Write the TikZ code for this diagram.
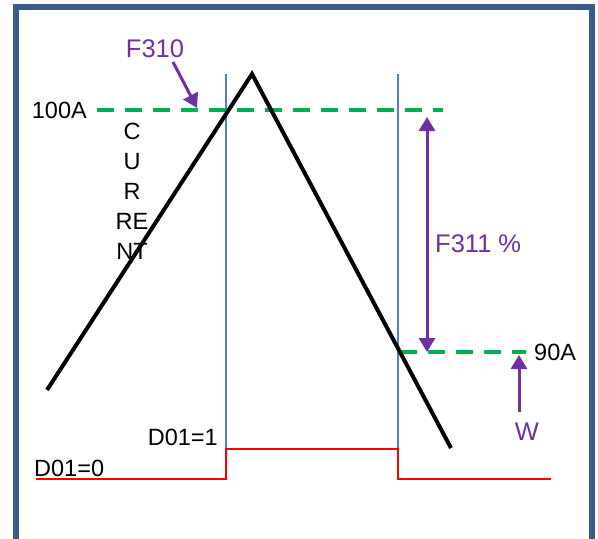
\documentclass[tikz,border=0pt]{standalone}
\usepackage{fontspec}
\setmainfont{Liberation Sans}
\usetikzlibrary{arrows.meta}
\definecolor{frameblue}{HTML}{385D8A}
\definecolor{lineblue}{HTML}{4F81BD}
\definecolor{dgreen}{HTML}{00B050}
\definecolor{purp}{HTML}{7030A0}
\begin{document}
\begin{tikzpicture}[x=1pt,y=-1pt,
  lbl/.style={inner sep=0pt,font=\fontsize{23.5}{28}\selectfont},
  plbl/.style={inner sep=0pt,text=purp,font=\fontsize{25.5}{30}\selectfont},
  curve/.style={line width=4pt,black},
  level/.style={line width=4pt,dgreen,dash pattern=on 17pt off 11pt},
  marker/.style={line width=1.5pt,lineblue},
  signal/.style={line width=2pt,red},
  parrow/.style={line width=3pt,purp,-{Triangle[length=14pt,width=16pt]}},
  pdarrow/.style={line width=3pt,purp,{Triangle[length=14pt,width=16pt]}-{Triangle[length=14pt,width=16pt]}},
  ]
\useasboundingbox (0,0) rectangle (598,539);
\fill[white] (0,0) rectangle (598,539);
% frame
\coordinate (fbl) at (16,560);
\coordinate (ftl) at (16,6.5);
\coordinate (ftr) at (592,6.5);
\coordinate (fbr) at (592,560);
\draw[frameblue,line width=6pt,line join=miter] (fbl) -- (ftl) -- (ftr) -- (fbr);
% marker lines
\coordinate (b1t) at (226,74);
\coordinate (b1b) at (226,449);
\coordinate (b2t) at (398,74);
\coordinate (b2b) at (398,449);
\draw[marker] (b1t) -- (b1b);
\draw[marker] (b2t) -- (b2b);
% levels
\coordinate (g1s) at (97,110);
\coordinate (g1e) at (443,110);
\coordinate (g2s) at (400,352);
\coordinate (g2e) at (526,352);
\draw[level] (g1s) -- (g1e);
\draw[level] (g2s) -- (g2e);
% current curve
\coordinate (L) at (47,390);
\coordinate (P) at (252,74);
\coordinate (R) at (451,448);
\draw[curve] (L) -- (P) -- (R);
% digital output
\coordinate (r0) at (36,479);
\coordinate (r1) at (226,479);
\coordinate (r2) at (226,449);
\coordinate (r3) at (398,449);
\coordinate (r4) at (398,479);
\coordinate (r5) at (551,479);
\draw[signal] (r0) -- (r1) -- (r2) -- (r3) -- (r4) -- (r5);
% labels
\node[lbl,anchor=east] (lab100) at (87,110) {100A};
\node[lbl,anchor=west] (lab90) at (534,352) {90A};
\node[lbl,anchor=east] (labD1) at (218,437) {D01=1};
\node[lbl,anchor=west] (labD0) at (34,468) {D01=0};
\node[lbl,align=center,font=\fontsize{23.5}{30}\selectfont] (cur) at (132,191) {C\\U\\R\\RE\\NT};
\node[plbl] (f310) at (155,48.5) {F310};
\node[plbl,anchor=west] (f311) at (435,244) {F311 \%};
\node[plbl] (w) at (527,432) {W};
% arrows
\coordinate (a1s) at (173,62);
\coordinate (a1e) at (197,108);
\draw[parrow] (a1s) -- (a1e);
\coordinate (a2s) at (427,117);
\coordinate (a2e) at (427,352);
\draw[pdarrow] (a2s) -- (a2e);
\coordinate (a3s) at (519,412);
\coordinate (a3e) at (519,355);
\draw[parrow] (a3s) -- (a3e);
\end{tikzpicture}
\end{document}
